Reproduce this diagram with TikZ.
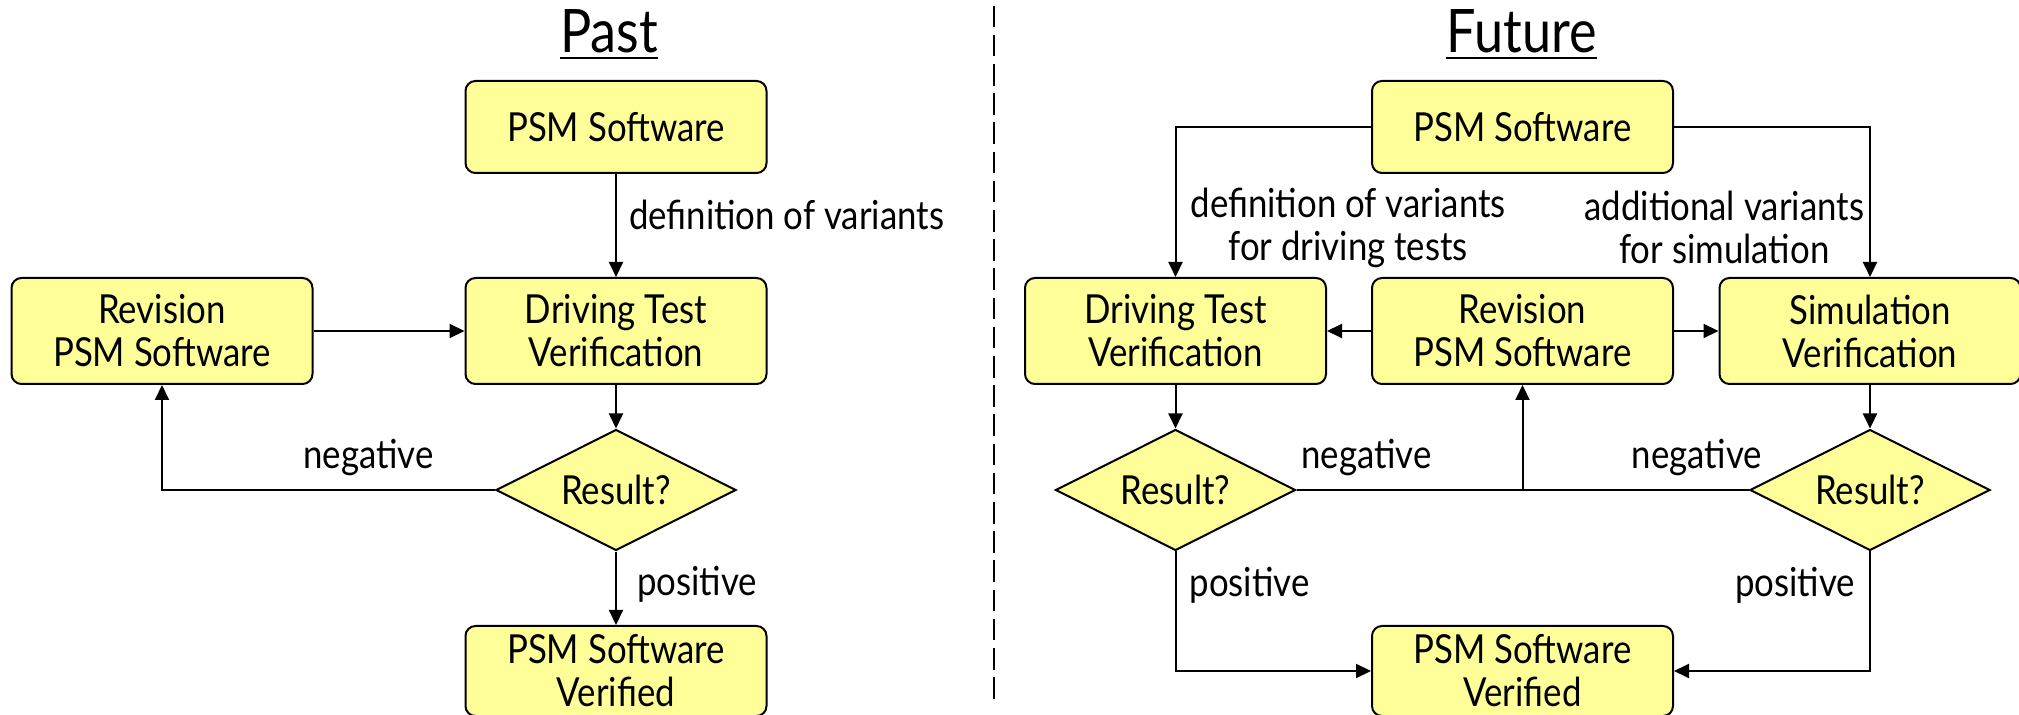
\documentclass[tikz,border=0pt]{standalone}
\usepackage{fontspec}
\setmainfont[FakeStretch=0.87]{Lato}
\usetikzlibrary{shapes.geometric,arrows.meta}
\definecolor{boxfill}{RGB}{255,255,153}
\begin{document}
\begin{tikzpicture}[x=0.5pt,y=-0.5pt,
  box/.style={draw, line width=1pt, fill=boxfill, rounded corners=5pt, minimum width=150.5pt, minimum height=53pt, align=center, inner sep=0pt, font=\fontsize{20}{21.5}\selectfont},
  dia/.style={draw, line width=1pt, fill=boxfill, shape=diamond, aspect=2, minimum width=120pt, minimum height=60.5pt, inner sep=0pt, font=\fontsize{20}{21.5}\selectfont},
  lbl/.style={inner sep=0pt, align=center, font=\fontsize{20}{21.5}\selectfont},
  title/.style={inner sep=0pt, font=\fontsize{30}{36}\selectfont},
  conn/.style={line width=1pt},
  arr/.style={conn, -{Triangle[length=7.5pt,width=7pt]}}]
\useasboundingbox (0,0) rectangle (2019,715);
\fill[white] (0,0) rectangle (2019,715);
% titles
\node[title, anchor=base] (tpast) at (609,53) {Past};
\draw[line width=1.3pt] ([yshift=-2.5pt]tpast.base west) -- ([yshift=-2.5pt]tpast.base east);
\node[title, anchor=base] (tfut) at (1521.5,53) {Future};
\draw[line width=1.3pt] ([yshift=-2.5pt]tfut.base west) -- ([yshift=-2.5pt]tfut.base east);
% separator
\draw[line width=1pt, dash pattern=on 10.8pt off 3.8pt] (993.5,5.7) -- (993.5,701);
% Past
\node[box, minimum height=46pt] (ppsm) at (616,127) {PSM Software};
\node[box] (pdrv) at (616,331) {Driving Test\\Verification};
\node[box] (prev) at (162,331) {Revision\\PSM Software};
\node[dia] (pres) at (616,490) {Result?};
\node[box, minimum height=45pt] (pver) at (616,671) {PSM Software\\Verified};
\draw[arr] (ppsm) -- node[lbl, pos=0.4, right=6pt] {definition of variants} (pdrv);
\draw[arr] (prev) -- (pdrv);
\draw[arr] (pdrv) -- (pres);
\draw[arr] (pres.west) -| node[lbl, pos=0.19, above=6.5pt] {negative} (prev.south);
\draw[arr] (pres) -- node[lbl, pos=0.45, right=10pt] {positive} (pver);
% Future
\node[box, minimum height=46pt] (fpsm) at (1522.5,127) {PSM Software};
\node[box] (fdrv) at (1175.5,331) {Driving Test\\Verification};
\node[box] (frev) at (1522.5,331) {Revision\\PSM Software};
\node[box] (fsim) at (1870,331) {Simulation\\Verification};
\node[dia] (fres1) at (1175.5,490) {Result?};
\node[dia] (fres2) at (1870,490) {Result?};
\node[box, minimum height=45pt] (fver) at (1522.5,671) {PSM Software\\Verified};
\coordinate (junc) at (frev.south |- fres1.east);
\draw[arr] (fpsm.west) -| node[lbl, pos=0.835, right=7pt] {definition of variants\\for driving tests} (fdrv.north);
\draw[arr] (fpsm.east) -| node[lbl, pos=0.835, left=2.5pt] {additional variants\\for simulation} (fsim.north);
\draw[arr] (frev) -- (fdrv);
\draw[arr] (frev) -- (fsim);
\draw[arr] (fdrv) -- (fres1);
\draw[arr] (fsim) -- (fres2);
\draw[conn] (fres1.east) -- node[lbl, pos=0.31, above=6.5pt] {negative} (junc) -- node[lbl, pos=0.77, above=6.5pt] {negative} (fres2.west);
\draw[arr] (junc) -- (frev.south);
\draw[arr] (fres1.south) |- node[lbl, pos=0.14, right=6.5pt] {positive} (fver.west);
\draw[arr] (fres2.south) |- node[lbl, pos=0.14, left=7pt] {positive} (fver.east);
\end{tikzpicture}
\end{document}
